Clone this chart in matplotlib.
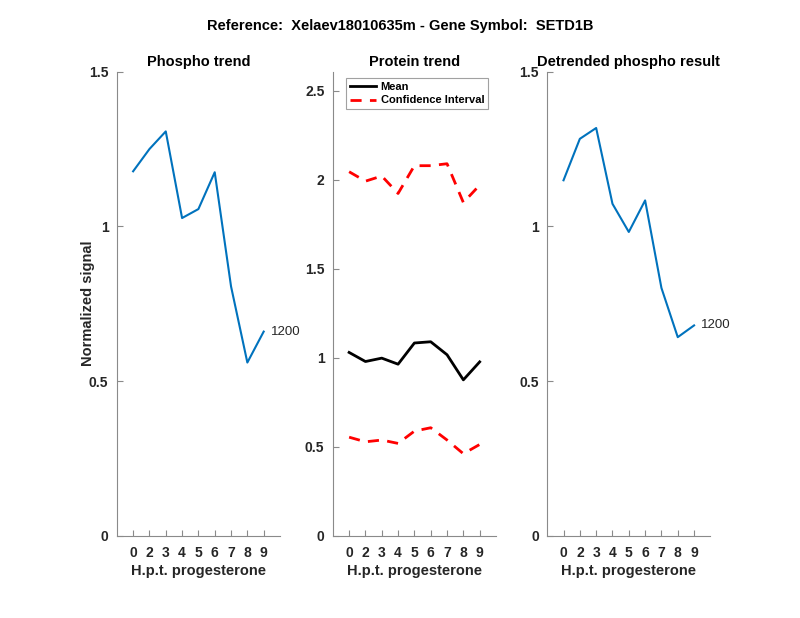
import matplotlib
matplotlib.use('Agg')
import matplotlib.pyplot as plt

plt.rcParams['font.family'] = ['Liberation Sans', 'DejaVu Sans']

time_labels = ['0', '2', '3', '4', '5', '6', '7', '8', '9']
phospho = [1.178, 1.250, 1.307, 1.027, 1.056, 1.175, 0.806, 0.560, 0.660]
protein_mean = [1.030, 0.979, 0.998, 0.964, 1.083, 1.090, 1.017, 0.876, 0.977]
protein_upper = [2.045, 1.992, 2.021, 1.923, 2.079, 2.079, 2.090, 1.872, 1.970]
protein_lower = [0.554, 0.528, 0.538, 0.519, 0.588, 0.607, 0.538, 0.461, 0.513]
detrended = [1.149, 1.283, 1.318, 1.073, 0.982, 1.084, 0.801, 0.642, 0.680]
peptide_label = '1200'

blue = '#0072BD'
axcol = '#262626'
x = list(range(1, len(time_labels) + 1))

fig = plt.figure(figsize=(8, 6.18), dpi=100)

def style(ax, ylim, yticks, title):
    ax.set_xlim(0, 10)
    ax.set_ylim(*ylim)
    ax.set_xticks(x)
    ax.set_xticklabels(time_labels)
    ax.set_yticks(yticks)
    ax.set_yticklabels([('%g' % t) for t in yticks])
    for s in ['top', 'right']:
        ax.spines[s].set_visible(False)
    for s in ['left', 'bottom']:
        ax.spines[s].set_color('#8a8a8a')
        ax.spines[s].set_linewidth(0.8)
    ax.tick_params(direction='in', length=4, width=0.8, color='#8a8a8a',
                   labelcolor=axcol, labelsize=10)
    ax.tick_params(axis='x', pad=7)
    ax.tick_params(axis='y', pad=6)
    for lab in ax.get_xticklabels() + ax.get_yticklabels():
        lab.set_fontweight('bold')
    ax.set_title(title, fontsize=10.5, fontweight='bold', color='black', pad=4)
    ax.set_xlabel('H.p.t. progesterone', fontsize=10.5, fontweight='bold', color=axcol, labelpad=3)

# phospho trend
ax1 = fig.add_axes([0.146, 0.133, 0.204, 0.751])
ax1.plot(x, phospho, color=blue, lw=1.5)
ax1.text(x[-1] + 0.45, phospho[-1], peptide_label, fontsize=9.5, va='center', color=axcol)
style(ax1, (0, 1.5), [0, 0.5, 1, 1.5], 'Phospho trend')
ax1.set_ylabel('Normalized signal', fontsize=10.5, fontweight='bold', color=axcol, labelpad=-4)

# protein trend
ax2 = fig.add_axes([0.416, 0.133, 0.204, 0.751])
ax2.plot(x, protein_mean, color='black', lw=2, label='Mean')
ax2.plot(x, protein_upper, color='red', lw=2, ls=(0, (4, 3)), label='Confidence Interval')
ax2.plot(x, protein_lower, color='red', lw=2, ls=(0, (4, 3)))
style(ax2, (0, 2.607), [0, 0.5, 1, 1.5, 2, 2.5], 'Protein trend')
leg = ax2.legend(loc='upper left', bbox_to_anchor=(0.045, 0.998), fontsize=8, frameon=True,
                 fancybox=False, handlelength=2.4, borderpad=0.35, labelspacing=0.3,
                 handletextpad=0.4)
leg.get_frame().set_edgecolor('#8a8a8a')
leg.get_frame().set_linewidth(0.8)
for t in leg.get_texts():
    t.set_fontweight('bold')

# detrended phospho
ax3 = fig.add_axes([0.684, 0.133, 0.204, 0.751])
ax3.plot(x, detrended, color=blue, lw=1.5)
ax3.text(x[-1] + 0.45, detrended[-1], peptide_label, fontsize=9.5, va='center', color=axcol)
style(ax3, (0, 1.5), [0, 0.5, 1, 1.5], 'Detrended phospho result')

fig.suptitle('Reference:  Xelaev18010635m - Gene Symbol:  SETD1B', y=0.958, va='center',
             fontsize=10.5, fontweight='bold')

fig.savefig('out.png', dpi=100)
